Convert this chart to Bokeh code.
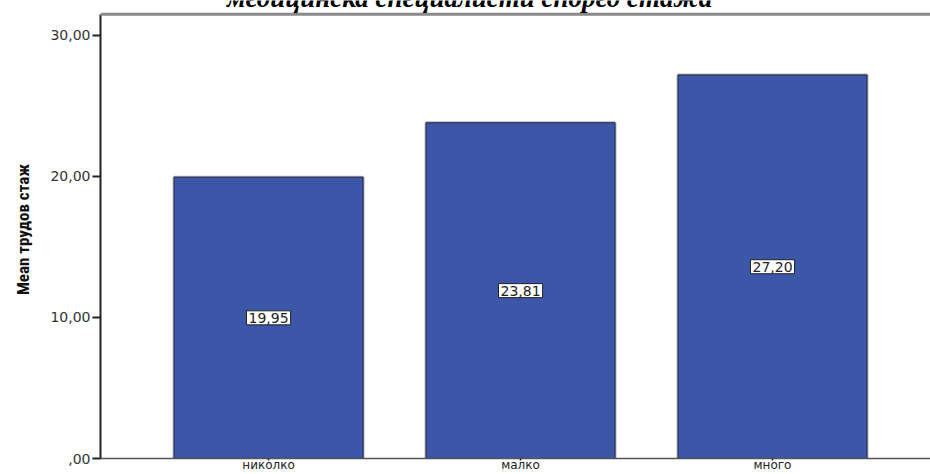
from bokeh.plotting import figure
from bokeh.models import Range1d, FixedTicker, Label, Span
from bokeh.embed import file_html
from bokeh.resources import INLINE

# Mean work experience by group
categories = ["николко", "малко", "много"]
means = [19.95, 23.81, 27.20]
y_ticks = [0, 10, 20, 30]
y_tick_labels = [",00", "10,00", "20,00", "30,00"]
title_text = "медицинска специалисти според стажа"
y_label_text = "Mean трудов стаж"

xs = list(range(len(categories)))
y_top = 31.5  # top edge of the chart box

p = figure(
    width=930, height=474,
    x_range=Range1d(-0.667, 2.627),
    y_range=Range1d(0, 32.48),
    output_backend="svg", toolbar_location=None,
    min_border_left=100, min_border_right=0,
    min_border_top=0, min_border_bottom=0,
    title=None,
)
p.outline_line_color = None
p.background_fill_color = "white"
p.border_fill_color = "white"
p.xgrid.visible = False
p.ygrid.visible = False

# bars: light halo underneath, then the filled bar with a dark edge
p.vbar(x=xs, top=means, width=0.75, bottom=0,
       fill_color=None, line_color="#b8b8b8", line_width=3)
p.vbar(x=xs, top=means, width=0.75, bottom=0,
       fill_color="#3c56a8", line_color="#1e2548", line_width=1)

# value boxes at mid-height of each bar
for x, v in zip(xs, means):
    p.add_layout(Label(
        x=x, y=v / 2, text=f"{v:.2f}".replace(".", ","),
        text_align="center", text_baseline="middle",
        text_font="DejaVu Sans", text_font_size="14px", text_color="#222222",
        background_fill_color="white", border_line_color="#202020",
        border_line_width=1, padding=2,
    ))

# y axis
ya = p.yaxis[0]
ya.bounds = (0, y_top)
ya.ticker = FixedTicker(ticks=y_ticks)
ya.major_label_overrides = {t: s for t, s in zip(y_ticks, y_tick_labels)}
ya.major_label_text_font = "DejaVu Sans"
ya.major_label_text_font_size = "14px"
ya.major_label_text_color = "#333333"
ya.major_tick_in = 0
ya.major_tick_out = 8
ya.major_tick_line_width = 2
ya.major_tick_line_color = "#222222"
ya.minor_tick_line_color = None
ya.axis_line_color = "#222222"
ya.axis_line_width = 2
ya.major_label_standoff = 2
ya.axis_label = y_label_text
ya.axis_label_text_font = "'Liberation Sans Narrow', 'Roboto Condensed', 'DejaVu Sans Condensed', Roboto, sans-serif"
ya.axis_label_text_font_style = "bold"
ya.axis_label_text_font_size = "17px"
ya.axis_label_text_color = "#111111"
ya.axis_label_standoff = 14

# x axis, labels tucked close to the baseline
xa = p.xaxis[0]
xa.ticker = FixedTicker(ticks=xs)
xa.major_label_overrides = {x: c for x, c in zip(xs, categories)}
xa.major_label_text_font = "DejaVu Sans"
xa.major_label_text_font_size = "12px"
xa.major_label_text_color = "#222222"
xa.major_tick_in = 0
xa.major_tick_out = 2
xa.major_tick_line_width = 1.5
xa.major_tick_line_color = "#222222"
xa.minor_tick_line_color = None
xa.axis_line_color = "#555555"
xa.axis_line_width = 1.5
xa.major_label_standoff = -3

# top border line of the chart box
p.add_layout(Span(location=y_top, dimension="width",
                  line_color="#8a8a8a", line_width=3))

# chart title (second line of the heading), running off the top edge
p.add_layout(Label(
    x=0.798, y=32.68, text=title_text,
    text_align="center", text_baseline="alphabetic",
    text_font="Liberation Serif", text_font_style="bold italic",
    text_font_size="27px", text_color="#000000",
))

open("out.html", "w").write(file_html(p, INLINE))
